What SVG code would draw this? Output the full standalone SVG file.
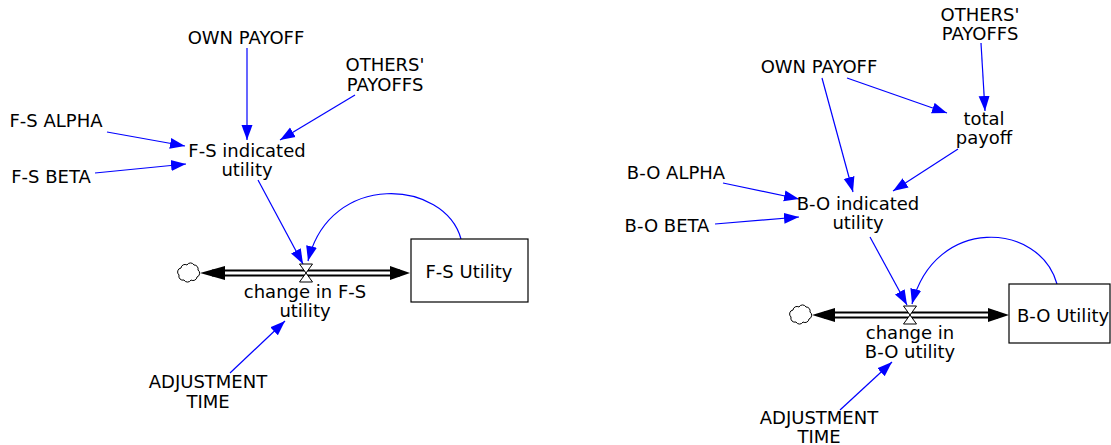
<svg xmlns="http://www.w3.org/2000/svg" width="1111" height="445" viewBox="0 0 1111 445">
<style>
text{font-family:"DejaVu Sans","Liberation Sans",sans-serif;font-size:18px;fill:#000;text-anchor:middle}
.lk{stroke:#0000ff;stroke-width:1.2;fill:none;marker-end:url(#ah)}
.po{stroke:#000;stroke-width:7;fill:none}
.pi{stroke:#fff;stroke-width:3;fill:none}
.fa{fill:#000}
.valve{fill:#fff;stroke:#000;stroke-width:1}
.stock{fill:#fff;stroke:#000;stroke-width:1.2}
.cloud{fill:#fff;stroke:#000;stroke-width:1}
</style>
<defs>
<marker id="ah" markerUnits="userSpaceOnUse" markerWidth="16" markerHeight="12" refX="15" refY="6" orient="auto">
<path d="M0,0.5 L15,6 L0,11.5 z" fill="#0000ff"/>
</marker>
<path id="cl" d="M-8,-5 a4,4 0 0 1 6,-3 a4,4 0 0 1 7,0 a4,4 0 0 1 4,5 a4,4 0 0 1 -1,7 a4,4 0 0 1 -6,3 a4,4 0 0 1 -7,0 a4,4 0 0 1 -5,-5 a4,4 0 0 1 2,-7 z"/>
<path id="vl" d="M-6.5,-9 L6.5,-9 L-6.5,9 L6.5,9 Z"/>
</defs>

<g id="connectors">
<!-- left -->
<line class="lk" x1="247" y1="48" x2="247" y2="140"/>
<line class="lk" x1="355" y1="95" x2="280" y2="140"/>
<line class="lk" x1="107" y1="132" x2="185" y2="146"/>
<line class="lk" x1="95" y1="173" x2="186" y2="164"/>
<line class="lk" x1="258" y1="180" x2="303" y2="264"/>
<path class="lk" d="M461,239 C445,180 330,170 308,261"/>
<line class="lk" x1="230" y1="373" x2="285" y2="321"/>
<!-- right -->
<line class="lk" x1="981" y1="43" x2="985" y2="111"/>
<line class="lk" x1="847" y1="78" x2="947" y2="113"/>
<line class="lk" x1="822" y1="78" x2="853" y2="192"/>
<line class="lk" x1="958" y1="149" x2="893" y2="191"/>
<line class="lk" x1="723" y1="183" x2="799" y2="199"/>
<line class="lk" x1="715" y1="224" x2="799" y2="217"/>
<line class="lk" x1="870" y1="237" x2="907" y2="305"/>
<path class="lk" d="M1057,284 C1040,222 935,215 912,304"/>
<line class="lk" x1="840" y1="410" x2="892" y2="362"/>
</g>

<g id="flow-left">
<line class="po" x1="212" y1="273" x2="400" y2="273"/>
<line class="pi" x1="212" y1="273" x2="400" y2="273"/>
<polygon class="fa" points="200,273 225,266 225,280"/>
<polygon class="fa" points="410,273 390,266 390,280"/>
</g>
<g id="cloud-left"><use href="#cl" class="cloud" transform="translate(189,273)"/></g>
<g id="valve-left"><use href="#vl" class="valve" transform="translate(306,273)"/></g>

<g id="flow-right">
<line class="po" x1="824" y1="315" x2="998" y2="315"/>
<line class="pi" x1="824" y1="315" x2="998" y2="315"/>
<polygon class="fa" points="812,315 835,308 835,322"/>
<polygon class="fa" points="1009,315 988,308 988,322"/>
</g>
<g id="cloud-right"><use href="#cl" class="cloud" transform="translate(801,315)"/></g>
<g id="valve-right"><use href="#vl" class="valve" transform="translate(910,315)"/></g>

<!-- left nodes -->
<g id="own-payoff-l"><text x="246" y="44">OWN PAYOFF</text></g>
<g id="others-payoffs-l"><text x="385" y="71">OTHERS'</text><text x="385" y="91">PAYOFFS</text></g>
<g id="fs-alpha"><text x="56" y="127">F-S ALPHA</text></g>
<g id="fs-beta"><text x="51" y="183">F-S BETA</text></g>
<g id="fs-indicated"><text x="247" y="157">F-S indicated</text><text x="247" y="176">utility</text></g>
<g id="fs-utility"><rect class="stock" x="411" y="239" width="117" height="63"/><text x="469" y="278">F-S Utility</text></g>
<g id="change-fs"><text x="305" y="298">change in F-S</text><text x="305" y="317">utility</text></g>
<g id="adj-time-l"><text x="208" y="388">ADJUSTMENT</text><text x="208" y="408">TIME</text></g>

<!-- right nodes -->
<g id="others-payoffs-r"><text x="980" y="21">OTHERS'</text><text x="980" y="40">PAYOFFS</text></g>
<g id="own-payoff-r"><text x="819" y="73">OWN PAYOFF</text></g>
<g id="total-payoff"><text x="984" y="125">total</text><text x="984" y="144">payoff</text></g>
<g id="bo-alpha"><text x="676" y="179">B-O ALPHA</text></g>
<g id="bo-beta"><text x="667" y="232">B-O BETA</text></g>
<g id="bo-indicated"><text x="858" y="210">B-O indicated</text><text x="858" y="229">utility</text></g>
<g id="bo-utility"><rect class="stock" x="1009" y="284" width="101" height="59"/><text x="1063" y="322">B-O Utility</text></g>
<g id="change-bo"><text x="910" y="339">change in</text><text x="910" y="358">B-O utility</text></g>
<g id="adj-time-r"><text x="819" y="424">ADJUSTMENT</text><text x="819" y="443">TIME</text></g>
</svg>
